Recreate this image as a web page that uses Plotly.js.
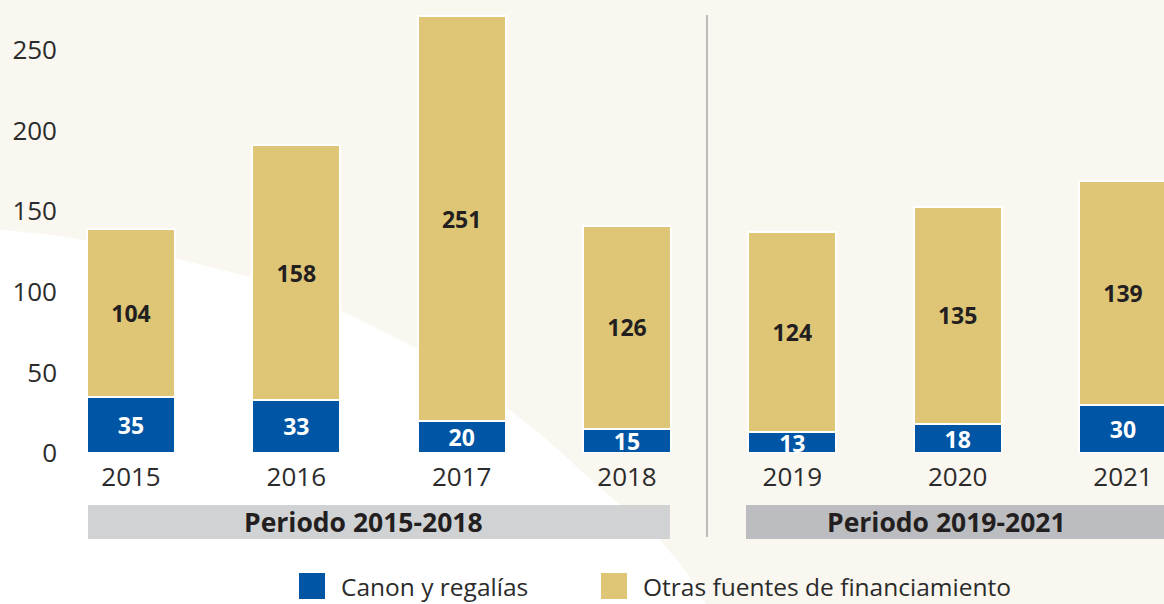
<!DOCTYPE html>
<html>
<head>
<meta charset="utf-8">
<script src="https://cdn.plot.ly/plotly-3.0.1.min.js"></script>
<style>
  html, body { margin: 0; padding: 0; background: #faf7f0; }
  #chart { width: 1164px; height: 604px; }
</style>
</head>
<body>
<div id="chart"></div>
<script>
// ---- Data ----
const years = ['2015', '2016', '2017', '2018', '2019', '2020', '2021'];
const canonRegalias = [35, 33, 20, 15, 13, 18, 30];
const otrasFuentes = [104, 158, 251, 126, 124, 135, 139];
const seriesNames = ['Canon y regalías', 'Otras fuentes de financiamiento'];
const periodLabels = ['Periodo 2015-2018', 'Periodo 2019-2021'];
const yTicks = [0, 50, 100, 150, 200, 250];

// ---- Layout helpers (pixel -> paper) ----
const L = 70, R = 1164, T = 10, B = 453;
const W = R - L, H = B - T;
const px = v => (v - L) / W;
const py = v => (B - v) / H;

const FONT = '"Open Sans", "Noto Sans", sans-serif';
const BLUE = '#0055a5';
const GOLD = '#dfc676';

const traces = [
  {
    type: 'bar',
    name: seriesNames[0],
    x: years,
    y: canonRegalias,
    text: canonRegalias.map(String),
    textposition: 'inside',
    insidetextanchor: 'middle',
    textangle: 0,
    constraintext: 'none',
    textfont: { family: FONT, size: 23, color: '#ffffff', weight: 700 },
    marker: { color: BLUE, line: { color: '#ffffff', width: 2 } },
    width: 0.532,
    showlegend: false,
    hoverinfo: 'x+y+name'
  },
  {
    type: 'bar',
    name: seriesNames[1],
    x: years,
    y: otrasFuentes,
    text: otrasFuentes.map(String),
    textposition: 'inside',
    insidetextanchor: 'middle',
    textangle: 0,
    constraintext: 'none',
    textfont: { family: FONT, size: 23, color: '#231f20', weight: 700 },
    marker: { color: GOLD, line: { color: '#ffffff', width: 2 } },
    width: 0.532,
    showlegend: false,
    hoverinfo: 'x+y+name'
  }
];

// white curved background region
const curvePts = [
  [-5, 229], [60, 236], [150, 252], [250, 277], [340, 310], [420, 350],
  [470, 380], [506, 407], [545, 438], [580, 470], [620, 505], [660, 540], [685, 570], [710, 610]
];
let pathStr = 'M' + curvePts.map(p => px(p[0]).toFixed(4) + ',' + py(p[1]).toFixed(4)).join(' L');
pathStr += ' L' + px(-5).toFixed(4) + ',' + py(610).toFixed(4) + ' Z';

const shapes = [
  { type: 'path', xref: 'paper', yref: 'paper', path: pathStr,
    fillcolor: '#ffffff', line: { width: 0 }, layer: 'below' },
  // divider
  { type: 'line', xref: 'paper', yref: 'paper',
    x0: px(707), x1: px(707), y0: py(15), y1: py(537),
    line: { color: '#a8a8a8', width: 1.5 }, layer: 'below' },
  // period boxes
  { type: 'rect', xref: 'paper', yref: 'paper',
    x0: px(88), x1: px(670), y0: py(539), y1: py(505),
    fillcolor: '#d1d2d4', line: { width: 0 }, layer: 'below' },
  { type: 'rect', xref: 'paper', yref: 'paper',
    x0: px(746), x1: px(1170), y0: py(539), y1: py(505),
    fillcolor: '#bcbdc0', line: { width: 0 }, layer: 'below' },
  // legend swatches
  { type: 'rect', xref: 'paper', yref: 'paper',
    x0: px(299), x1: px(325), y0: py(599), y1: py(573),
    fillcolor: BLUE, line: { width: 0 } },
  { type: 'rect', xref: 'paper', yref: 'paper',
    x0: px(601), x1: px(627), y0: py(599), y1: py(573),
    fillcolor: GOLD, line: { width: 0 } }
];

const annotations = [
  { xref: 'paper', yref: 'paper', x: px(363), y: py(522), text: '<b>' + periodLabels[0] + '</b>',
    showarrow: false, font: { family: FONT, size: 26.5, color: '#231f20' }, xanchor: 'center', yanchor: 'middle' },
  { xref: 'paper', yref: 'paper', x: px(946), y: py(522), text: '<b>' + periodLabels[1] + '</b>',
    showarrow: false, font: { family: FONT, size: 26.5, color: '#231f20' }, xanchor: 'center', yanchor: 'middle' },
  { xref: 'paper', yref: 'paper', x: px(339), y: py(586), text: seriesNames[0],
    showarrow: false, font: { family: FONT, size: 24.5, color: '#2b2b2b' }, xanchor: 'left', yanchor: 'middle' },
  { xref: 'paper', yref: 'paper', x: px(641), y: py(586), text: seriesNames[1],
    showarrow: false, font: { family: FONT, size: 24.5, color: '#2b2b2b' }, xanchor: 'left', yanchor: 'middle' }
];

const layout = {
  width: 1164,
  height: 604,
  margin: { l: L, r: 1164 - R, t: T, b: 604 - B, pad: 0 },
  paper_bgcolor: '#faf7f0',
  plot_bgcolor: 'rgba(0,0,0,0)',
  barmode: 'stack',
  font: { family: FONT, color: '#2b2b2b' },
  xaxis: {
    type: 'category',
    range: [-0.369, 6.248],
    showgrid: false, zeroline: false, showline: false,
    ticks: '',
    ticklabelstandoff: 6,
    tickfont: { family: FONT, size: 26, color: '#2b2b2b' },
    fixedrange: true
  },
  yaxis: {
    range: [0, 275],
    tickvals: yTicks,
    ticktext: yTicks.map(String),
    showgrid: false, zeroline: false, showline: false,
    ticks: '',
    ticklabelstandoff: 12,
    tickfont: { family: FONT, size: 26, color: '#2b2b2b' },
    fixedrange: true
  },
  showlegend: false,
  shapes: shapes,
  annotations: annotations,
  uniformtext: { mode: 'show', minsize: 23 }
};

Plotly.newPlot('chart', traces, layout, { displayModeBar: false });
</script>
</body>
</html>
